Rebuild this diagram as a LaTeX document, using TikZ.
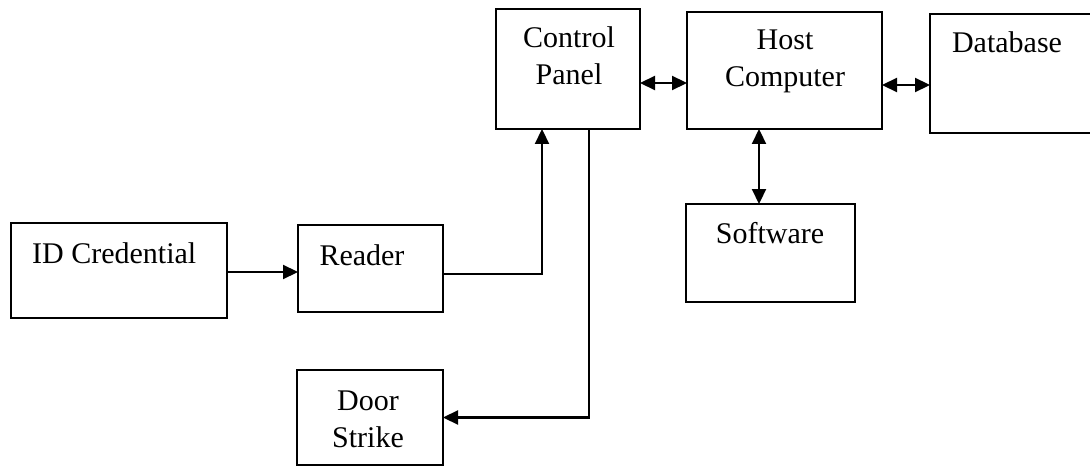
\documentclass[tikz,border=0pt]{standalone}
\usepackage{fontspec}
\setmainfont{Liberation Serif}
\usetikzlibrary{arrows.meta,calc}

\begin{document}
\begin{tikzpicture}[x=1pt,y=-1pt,
    box/.style={draw, line width=2.2pt, rectangle, inner sep=0pt, outer sep=0pt},
    txt/.style={anchor=base, inner sep=0pt, font=\fontsize{30}{37}\selectfont},
    link/.style={line width=2.2pt},
    one/.style={link, -{Triangle[length=15pt,width=14pt]}},
    both/.style={link, {Triangle[length=15pt,width=14pt]}-{Triangle[length=15pt,width=14pt]}}]
  \useasboundingbox (0,0) rectangle (1090,468);
  \clip (0,0) rectangle (1090,468);

  % boxes
  \node[box, minimum width=144pt, minimum height=120pt] (ctrl)   at (568,69)    {};
  \node[box, minimum width=195pt, minimum height=117pt] (host)   at (784.5,70.5) {};
  \node[box, minimum width=170pt, minimum height=119pt] (db)     at (1015,73.5) {};
  \node[box, minimum width=169pt, minimum height=98pt]  (soft)   at (770.5,253) {};
  \node[box, minimum width=216pt, minimum height=95pt]  (idc)    at (119,270.5) {};
  \node[box, minimum width=145pt, minimum height=87pt]  (reader) at (370.5,268.5) {};
  \node[box, minimum width=146pt, minimum height=95pt]  (door)   at (370,417.5) {};

  % labels
  \node[txt] (tctrl) at (569,48) {\begin{tabular}[t]{@{}c@{}}Control\\Panel\end{tabular}};
  \node[txt] (thost) at (785,50) {\begin{tabular}[t]{@{}c@{}}Host\\Computer\end{tabular}};
  \node[txt] (tdb)   at (1007,53) {Database};
  \node[txt] (tsoft) at (770,243) {Software};
  \node[txt, anchor=base west] (tidc) at (32,263) {ID Credential};
  \node[txt] (trd)   at (362,265) {Reader};
  \node[txt] (tdoor) at (368,410) {\begin{tabular}[t]{@{}c@{}}Door\\Strike\end{tabular}};

  % connectors
  \coordinate (i1) at ($(idc.east)+(0,1.5)$);
  \draw[one] (i1) -- (i1 -| reader.west);
  \draw[one] ([yshift=-5.5pt]reader.east) -| ([xshift=-26pt]ctrl.south);
  \draw[one] ([xshift=21pt]ctrl.south) |- (door.east);

  \coordinate (c1) at ($(ctrl.east)+(0,14)$);
  \draw[both] (c1) -- (c1 -| host.west);
  \coordinate (h1) at ($(host.east)+(0,14.5)$);
  \draw[both] (h1) -- (h1 -| db.west);
  \coordinate (h2) at ($(host.south)+(-25.5,0)$);
  \draw[both] (h2) -- (h2 |- soft.north);
\end{tikzpicture}
\end{document}
